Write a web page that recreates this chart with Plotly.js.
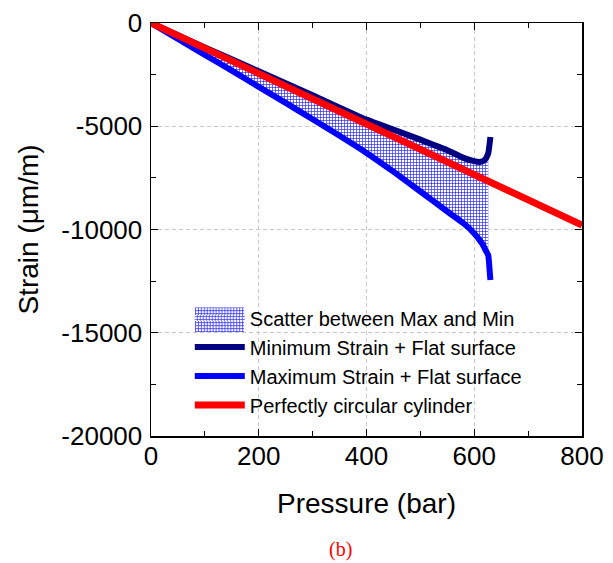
<!DOCTYPE html>
<html>
<head>
<meta charset="utf-8">
<script src="https://cdn.plot.ly/plotly-3.0.1.min.js"></script>
<style>html,body{margin:0;padding:0;background:#fff;}</style>
</head>
<body>
<div id="chart" style="width:613px;height:563px;"></div>
<script>
// Pressure (bar) / strain (µm/m)
const minP = [0, 100, 200, 300, 400, 450, 500, 550, 580, 600, 610, 618, 622, 626, 628, 630];
const minS = [0, -1180, -2340, -3500, -4680, -5160, -5650, -6160, -6530, -6690, -6730, -6660, -6540, -6300, -5950, -5520];
const maxP = [0, 50, 100, 150, 200, 250, 300, 350, 400, 450, 500, 550, 580, 600, 615, 622, 626, 628, 630];
const maxS = [0, -770, -1540, -2310, -3090, -3870, -4660, -5460, -6290, -7200, -8160, -9130, -9700, -10190, -10700, -11050, -11250, -11800, -12450];
const cylP = [0, 800];
const cylS = [0, -9790];
const fillEndP = 626;

const seriesNames = ['Scatter between Max and Min', 'Minimum Strain + Flat surface', 'Maximum Strain + Flat surface', 'Perfectly circular cylinder'];
const xTickVals = [0, 200, 400, 600, 800];
const xTickText = ['0', '200', '400', '600', '800'];
const yTickVals = [0, -5000, -10000, -15000, -20000];
const yTickText = ['0', '-5000', '-10000', '-15000', '-20000'];

// band polygon between max and min curves
const bandX = [], bandY = [];
maxP.forEach((p, i) => { if (p <= fillEndP) { bandX.push(p); bandY.push(maxS[i]); } });
for (let i = minP.length - 1; i >= 0; i--) { if (minP[i] <= fillEndP) { bandX.push(minP[i]); bandY.push(minS[i]); } }

const font = 'Liberation Sans, Arial, sans-serif';
const hatchFg = '#2a2aff';

// hatched swatch for the legend entry of the band
const swatchSvg = "<svg xmlns='http://www.w3.org/2000/svg' width='50' height='25'>" +
  "<defs><pattern id='p' width='3' height='3' patternUnits='userSpaceOnUse'>" +
  "<rect width='3' height='3' fill='#ffffff'/>" +
  "<path d='M0,0.5H3M0.5,0V3' stroke='" + hatchFg + "' stroke-width='1' stroke-opacity='0.75'/></pattern></defs>" +
  "<rect width='50' height='25' fill='url(#p)'/></svg>";
const swatchSrc = 'data:image/svg+xml;charset=utf-8,' + encodeURIComponent(swatchSvg);

const data = [
  {x: bandX, y: bandY, type: 'scatter', mode: 'none', fill: 'toself', name: seriesNames[0],
   fillcolor: 'rgba(255,255,255,0)',
   fillpattern: {shape: '+', fgcolor: hatchFg, bgcolor: '#ffffff', size: 3, solidity: 0.4}},
  {x: minP, y: minS, type: 'scatter', mode: 'lines', name: seriesNames[1],
   line: {color: '#000080', width: 6, shape: 'spline', smoothing: 0.6}},
  {x: maxP, y: maxS, type: 'scatter', mode: 'lines', name: seriesNames[2],
   line: {color: '#0000ff', width: 6, shape: 'spline', smoothing: 0.5}},
  {x: cylP, y: cylS, type: 'scatter', mode: 'lines', name: seriesNames[3],
   line: {color: '#ff0000', width: 7}}
];

const axisCommon = {
  showline: true, linecolor: '#000', linewidth: 1.5, mirror: 'ticks',
  ticks: 'inside', ticklen: 7, tickwidth: 1.2, tickcolor: '#000',
  showgrid: true, gridcolor: '#c8c8c8', gridwidth: 1, griddash: '4px,3px',
  zeroline: false, tickfont: {family: font, size: 26, color: '#000'}
};

const layout = {
  width: 613, height: 563,
  margin: {l: 151, r: 31, t: 23, b: 127},
  paper_bgcolor: '#fff', plot_bgcolor: '#fff',
  font: {family: font, color: '#000'},
  showlegend: true,
  xaxis: Object.assign({}, axisCommon, {
    range: [0, 800], tickmode: 'array', tickvals: xTickVals, ticktext: xTickText,
    minor: {dtick: 100, tick0: 0, ticks: 'inside', ticklen: 5, tickcolor: '#000', showgrid: false},
    ticklabelstandoff: -4,
    title: {text: 'Pressure (bar)', font: {family: font, size: 28}, standoff: 23}
  }),
  yaxis: Object.assign({}, axisCommon, {
    range: [-20000, 0], tickmode: 'array', tickvals: yTickVals, ticktext: yTickText,
    minor: {dtick: 2500, tick0: 0, ticks: 'inside', ticklen: 5, tickcolor: '#000', showgrid: false},
    ticklabelstandoff: 2,
    title: {text: 'Strain (μm/m)', font: {family: font, size: 28}, standoff: 14}
  }),
  legend: {
    x: 0.09, y: 0.333, xanchor: 'left', yanchor: 'top',
    bgcolor: 'rgba(255,255,255,0)', borderwidth: 0,
    font: {family: font, size: 20, color: '#000'},
    itemwidth: 50, tracegroupgap: 0
  },
  shapes: [{
    type: 'rect', xref: 'paper', yref: 'paper', layer: 'between',
    x0: 0.032, x1: 0.993, y0: 0.053, y1: 0.324,
    fillcolor: '#ffffff', line: {width: 0}
  }],
  images: [{
    source: swatchSrc, xref: 'paper', yref: 'paper', layer: 'above',
    x: 0.102, y: 0.312, sizex: 0.114, sizey: 0.0605,
    xanchor: 'left', yanchor: 'top', sizing: 'stretch'
  }],
  annotations: [{
    text: '(b)', xref: 'paper', yref: 'paper', x: 0.44, y: -0.275,
    xanchor: 'center', yanchor: 'middle', showarrow: false,
    font: {family: 'Liberation Serif, Times New Roman, serif', size: 20, color: '#ff0000'}
  }]
};

Plotly.newPlot('chart', data, layout, {displayModeBar: false, staticPlot: true});
</script>
</body>
</html>
